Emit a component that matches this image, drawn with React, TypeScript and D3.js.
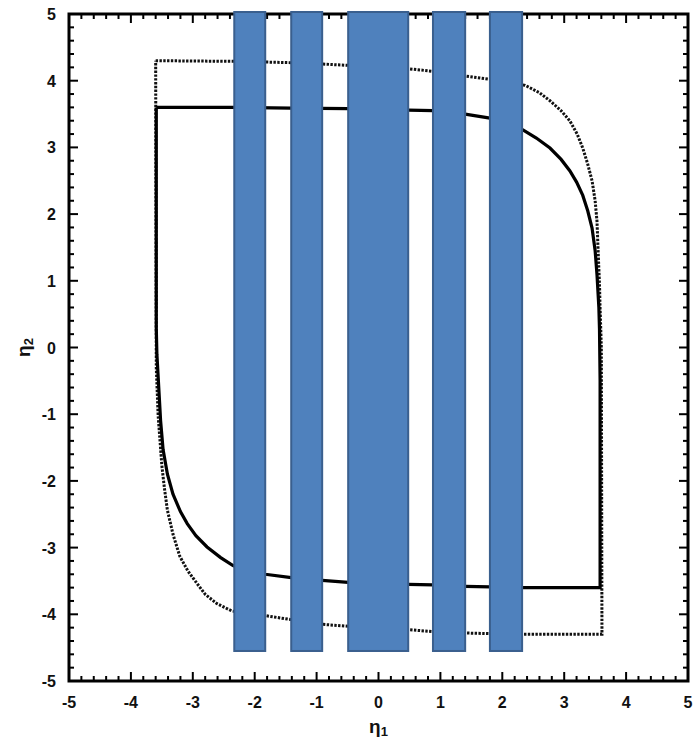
import React from 'react';
import * as d3 from 'd3';

// axis ticks
const xTicks = [-5, -4, -3, -2, -1, 0, 1, 2, 3, 4, 5];
const yTicks = [-5, -4, -3, -2, -1, 0, 1, 2, 3, 4, 5];

// blue occluding bars: [left, right] in eta1 units
const bars: [number, number][] = [
  [-2.33, -1.83],
  [-1.41, -0.91],
  [-0.49, 0.48],
  [0.88, 1.40],
  [1.80, 2.32],
];
const barTop = 5.03;
const barBottom = -4.55;

// solid loop [eta1, eta2]
const solidCurve: [number, number][] = [
  [-3.59, 3.60], [-2.33, 3.60], [-1.41, 3.59], [-0.49, 3.58], [0.48, 3.56],
  [0.88, 3.55], [1.40, 3.50], [1.80, 3.44], [2.10, 3.37], [2.34, 3.26],
  [2.55, 3.14], [2.77, 2.99], [2.95, 2.82], [3.09, 2.65], [3.20, 2.48],
  [3.30, 2.28], [3.38, 2.05], [3.45, 1.79], [3.50, 1.45], [3.53, 1.09],
  [3.56, 0.60], [3.57, 0.28], [3.58, -0.50], [3.58, -3.60],
  [2.32, -3.60], [1.80, -3.59], [1.40, -3.58], [0.88, -3.56], [0.48, -3.55],
  [-0.49, -3.52], [-0.91, -3.49], [-1.41, -3.45], [-1.83, -3.40], [-2.10, -3.36],
  [-2.35, -3.27], [-2.55, -3.15], [-2.77, -2.99], [-2.95, -2.82], [-3.09, -2.64],
  [-3.20, -2.46], [-3.32, -2.20], [-3.41, -1.90], [-3.48, -1.53], [-3.52, -1.10],
  [-3.55, -0.60], [-3.58, -0.10], [-3.59, 0.30], [-3.59, 3.60],
];

// dotted loop [eta1, eta2]
const dottedCurve: [number, number][] = [
  [-3.60, 4.30], [-2.33, 4.29], [-1.83, 4.28], [-1.41, 4.27], [-0.91, 4.25],
  [-0.49, 4.23], [0.48, 4.18], [0.88, 4.14], [1.40, 4.07], [1.80, 4.02],
  [2.10, 3.98], [2.37, 3.93], [2.60, 3.82], [2.77, 3.70], [2.95, 3.55],
  [3.09, 3.40], [3.21, 3.20], [3.30, 2.99], [3.38, 2.75], [3.45, 2.50],
  [3.50, 2.20], [3.53, 1.89], [3.55, 1.40], [3.57, 0.95], [3.58, 0.58],
  [3.60, 0.00], [3.61, -4.30],
  [2.32, -4.30], [1.80, -4.29], [1.40, -4.28], [0.88, -4.26], [0.48, -4.23],
  [-0.49, -4.18], [-0.91, -4.15], [-1.41, -4.08], [-1.83, -4.02], [-2.10, -3.99],
  [-2.37, -3.95], [-2.61, -3.84], [-2.80, -3.70], [-2.93, -3.54], [-3.08, -3.35],
  [-3.21, -3.13], [-3.32, -2.80], [-3.41, -2.44], [-3.46, -2.10], [-3.50, -1.77],
  [-3.56, -1.02], [-3.59, -0.30], [-3.60, 4.30],
];

export default function App() {
  const width = 693;
  const height = 742;
  const margin = { top: 14, right: 5, bottom: 61, left: 69 };

  const x = d3.scaleLinear().domain([-5, 5]).range([margin.left, width - margin.right]);
  const y = d3.scaleLinear().domain([-5, 5]).range([height - margin.bottom, margin.top]);

  const line = d3.line<[number, number]>()
    .x(d => x(d[0]))
    .y(d => y(d[1]))
    .curve(d3.curveLinear);

  const minor = d3.range(-50, 51, 2).map(v => v / 10);
  const majLen = 9;
  const minLen = 5;

  const x0 = x(-5), x1 = x(5), y0 = y(-5), y1 = y(5);
  const font = "'Liberation Sans', Arial, sans-serif";

  return (
    <svg width={width} height={height} style={{ position: 'absolute', left: 0, top: 0, background: '#fff' }}>
      {/* ticks on all four sides, pointing inward */}
      <g stroke="#000" strokeWidth={2}>
        {minor.map((v, i) => {
          const isMajor = Math.abs(v - Math.round(v)) < 1e-6;
          const len = isMajor ? majLen : minLen;
          return (
            <g key={i}>
              <line x1={x(v)} x2={x(v)} y1={y0} y2={y0 - len} />
              <line x1={x(v)} x2={x(v)} y1={y1} y2={y1 + len} />
              <line x1={x0} x2={x0 + len} y1={y(v)} y2={y(v)} />
              <line x1={x1} x2={x1 - len} y1={y(v)} y2={y(v)} />
            </g>
          );
        })}
      </g>
      <rect x={x0} y={y1} width={x1 - x0} height={y0 - y1} fill="none" stroke="#000" strokeWidth={3} />

      {/* tick labels */}
      <g fontFamily={font} fontWeight="bold" fontSize={16} fill="#111">
        {xTicks.map(t => (
          <text key={'x' + t} x={x(t)} y={y0 + 27} textAnchor="middle">{t}</text>
        ))}
        {yTicks.map(t => (
          <text key={'y' + t} x={x0 - 13} y={y(t) + 6} textAnchor="end">{t}</text>
        ))}
      </g>

      {/* axis titles */}
      <text x={x(0)} y={y0 + 52} textAnchor="middle" fontFamily={font} fontWeight="bold" fontSize={19} fill="#111">
        η<tspan fontSize={13} dy={3}>1</tspan>
      </text>
      <text transform={`translate(30, ${y(0)}) rotate(-90)`} textAnchor="middle" fontFamily={font} fontWeight="bold" fontSize={19} fill="#111">
        η<tspan fontSize={13} dy={3}>2</tspan>
      </text>

      {/* curves */}
      <path d={line(dottedCurve) ?? ''} fill="none" stroke="#111" strokeWidth={3} strokeDasharray="2.4,1.4" />
      <path d={line(solidCurve) ?? ''} fill="none" stroke="#000" strokeWidth={3.2} strokeLinejoin="miter" />

      {/* occluding bars */}
      {bars.map((b, i) => (
        <rect key={i}
          x={x(b[0])} y={y(barTop)}
          width={x(b[1]) - x(b[0])} height={y(barBottom) - y(barTop)}
          fill="#4F81BD" stroke="#3A5F8E" strokeWidth={2} />
      ))}
    </svg>
  );
}
